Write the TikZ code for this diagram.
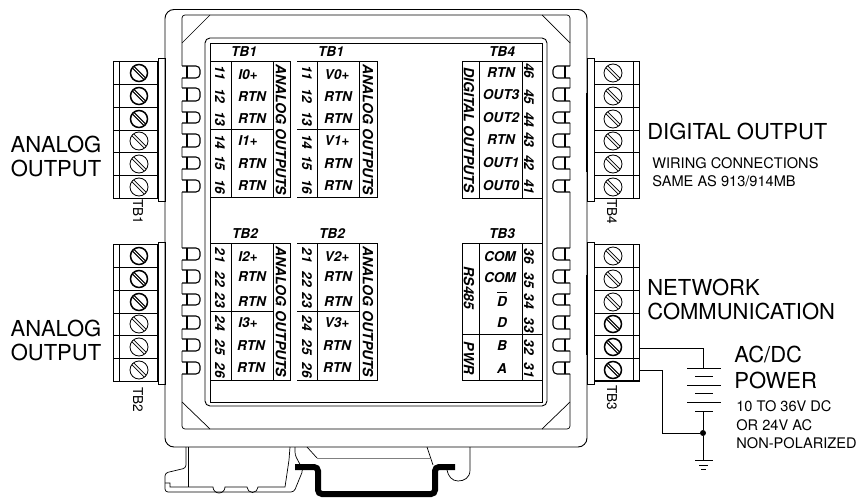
\documentclass[tikz,border=0pt]{standalone}
\usepackage{fontspec}
\setmainfont{TeX Gyre Heros}

\tikzset{
  bigtext/.style={inner sep=0pt,align=left,font=\fontsize{22}{24}\selectfont},
  smalltext/.style={inner sep=0pt,align=left,anchor=west,font=\fontsize{14.6}{18.6}\selectfont},
  sidetext/.style={inner sep=0pt,rotate=-90,font=\fontsize{13.6}{15}\selectfont},
  celltext/.style={inner sep=0pt,font=\fontsize{13.6}{15}\selectfont\bfseries\itshape},
  numtext/.style={inner sep=0pt,rotate=-90,font=\fontsize{13.6}{15}\selectfont\bfseries\itshape},
  headtext/.style={inner sep=0pt,rotate=-90,font=\fontsize{14}{16}\selectfont\bfseries\itshape},
  screwthin/.style={circle,draw,line width=0.8pt,inner sep=0pt,minimum size=18pt,
    path picture={\draw[line width=0.8pt,double,double distance=1.6pt]
      (path picture bounding box.north west) -- (path picture bounding box.south east);}},
  screwthick/.style={circle,draw,line width=1.5pt,inner sep=0pt,minimum size=17pt,
    path picture={\draw[line width=1.1pt,double,double distance=1pt]
      (path picture bounding box.north west) -- (path picture bounding box.south east);}},
  fingerl/.style={line width=1.1pt,rounded corners=4pt},
  cellline/.style={line width=0.8pt},
  railline/.style={line width=6pt,rounded corners=4pt}
}

\begin{document}
\begin{tikzpicture}[x=1pt,y=-1pt,line width=0.7pt]

  \useasboundingbox (0,0) rectangle (857,500);

  \draw[line width=0.9pt,rounded corners=9pt] (165,9.5) rectangle (587,447);
  \draw[rounded corners=3pt] (182,15) rectangle (570,429);
  \draw[line width=0.9pt,rounded corners=5pt] (205,38) rectangle (547,406);
  \draw[line width=0.9pt] (210,43) rectangle (542,402);
  \draw (182,43) -- (210,15);
  \draw (542,15) -- (570,43);
  \draw (182,402) -- (210,429);
  \draw (570,402) -- (542,429);
  \draw[line width=1.6pt] (587,93) -- (587,172);
  \draw[line width=1.6pt] (587,275) -- (587,355);

  \foreach \y in {0,182} {
    \foreach \t/\b in {66/78,88/101,112/123,134/147,157/169,180/192} {
      \fill[white] (180,\t+\y) rectangle (185,\b+\y);
      \draw[fingerl] (182,\t+\y) -- (200,\t+\y) -- (200,\b+\y) -- (182,\b+\y);
      \draw[line width=1.1pt] (187,\t+\y) -- (187,\b+\y);
      \fill[white] (567,\t+\y) rectangle (572,\b+\y);
      \draw[fingerl] (570,\t+\y) -- (553,\t+\y) -- (553,\b+\y) -- (570,\b+\y);
      \draw[line width=1.1pt] (565,\t+\y) -- (565,\b+\y);
    }
  }

  \draw[line width=0.9pt] (113,61) rectangle (157,198);
  \draw (119,61) -- (119,198);
  \draw (158,58) rectangle (165,201);
  \draw[line width=0.9pt] (113,244) rectangle (157,381);
  \draw (119,244) -- (119,381);
  \draw (158,242) rectangle (165,384);
  \draw[line width=0.9pt] (594,61) rectangle (639,198);
  \draw[line width=0.9pt] (633,61) -- (633,198);
  \draw (587,58) rectangle (594,201);
  \draw[line width=0.9pt] (594,244) rectangle (639,381);
  \draw (633,244) -- (633,381);
  \draw (587,242) rectangle (594,384);
  \draw[line width=1.4pt] (594,381) -- (639,381);

  \foreach \y in {84,107,130,152,175} {
    \draw (113,\y) -- (157,\y);
    \draw (113,\y+183) -- (157,\y+183);
    \draw (594,\y) -- (639,\y);
    \draw (594,\y+183) -- (639,\y+183);
  }

  \foreach \n/\y in {1/73,2/96,3/119} {
    \node[screwthick] (scra\n) at (139,\y) {};
    \node[screwthick] (scrb\n) at (139,\y+183) {};
    \node[screwthin] (scrd\n) at (613,\y) {};
    \node[screwthin] (scrc\n) at (613,\y+183) {};
  }
  \foreach \n/\y in {4/141,5/164,6/187} {
    \node[screwthin] (scra\n) at (139,\y) {};
    \node[screwthin] (scrb\n) at (139,\y+183) {};
    \node[screwthin] (scrd\n) at (613,\y) {};
    \node[screwthick] (scrc\n) at (613,\y+183) {};
  }

  \draw[cellline] (210,61) rectangle (290,197);
  \draw[cellline] (231,61) -- (231,197);
  \draw[cellline] (273,61) -- (273,197);
  \draw[cellline] (210,129) -- (273,129);
  \draw[cellline] (297,61) -- (377,61) -- (377,197) -- (297,197);
  \draw[cellline] (317,61) -- (317,197);
  \draw[cellline] (359,61) -- (359,197);
  \draw[cellline] (297,129) -- (359,129);
  \draw[cellline] (210,243) rectangle (290,380);
  \draw[cellline] (231,243) -- (231,380);
  \draw[cellline] (273,243) -- (273,380);
  \draw[cellline] (210,311) -- (273,311);
  \draw[cellline] (297,243) -- (377,243) -- (377,380) -- (297,380);
  \draw[cellline] (317,243) -- (317,380);
  \draw[cellline] (359,243) -- (359,380);
  \draw[cellline] (297,311) -- (359,311);
  \draw[cellline] (462,61) rectangle (542,198);
  \draw[cellline] (479,61) -- (479,198);
  \draw[cellline] (522,61) -- (522,198);
  \draw[cellline] (462,243) rectangle (542,380);
  \draw[cellline] (479,243) -- (479,380);
  \draw[cellline] (522,243) -- (522,380);
  \draw[cellline] (462,334) -- (542,334);

  \node[celltext] (heada) at (244,52) {TB1};
  \node[celltext] (headb) at (331,52) {TB1};
  \node[celltext] (headc) at (245,234) {TB2};
  \node[celltext] (headd) at (332,234) {TB2};
  \node[celltext] (heade) at (502,52) {TB4};
  \node[celltext] (headf) at (502,234) {TB3};

  \foreach \n/\y in {11/73,12/96,13/119,14/142,15/163,16/187} {
    \node[numtext] (numa\n) at (220,\y) {\n};
    \node[numtext] (numb\n) at (307,\y) {\n};
  }
  \foreach \n/\y in {21/255,22/279,23/300,24/323,25/347,26/370} {
    \node[numtext] (numa\n) at (220,\y) {\n};
    \node[numtext] (numb\n) at (307,\y) {\n};
  }
  \foreach \n/\y in {46/71,45/97,44/120,43/140,42/163,41/187,36/256,35/280,34/301,33/325,32/347,31/370} {
    \node[numtext] (numc\n) at (529,\y) {\n};
  }

  \foreach \n/\t/\x/\y in {a/I0+/248/75,b/RTN/252/97,c/RTN/252/119,d/I1+/248/141,e/RTN/252/164,f/RTN/252/186,
    g/V0+/337/75,h/RTN/338/97,i/RTN/338/119,j/V1+/337/141,k/RTN/338/164,l/RTN/338/186,
    m/I2+/248/257,n/RTN/252/277,o/RTN/252/302,p/I3+/248/323,q/RTN/251/346,r/RTN/251/368,
    s/V2+/337/257,t/RTN/338/277,u/RTN/338/302,v/V3+/337/323,w/RTN/337/346,x/RTN/337/368} {
    \node[celltext] (lab\n) at (\x,\y) {\t};
  }
  \foreach \n/\t/\y in {a/RTN/73,b/OUT3/95,c/OUT2/118,d/RTN/140,e/OUT1/163,f/OUT0/186} {
    \node[celltext] (outp\n) at (501,\y) {\t};
  }
  \node[celltext] (comb) at (500,257) {COM};
  \node[celltext] (coma) at (500,278) {COM};
  \node[celltext] (dbar) at (502,302) {D};
  \draw (497,292.5) -- (507,292.5);
  \node[celltext] (dpos) at (502,323) {D};
  \node[celltext] (pwrb) at (502,346) {B};
  \node[celltext] (pwra) at (502,369) {A};

  \node[headtext] (anaa) at (281,130) {ANALOG OUTPUTS};
  \node[headtext] (anab) at (368,130) {ANALOG OUTPUTS};
  \node[headtext] (anac) at (281,312) {ANALOG OUTPUTS};
  \node[headtext] (anad) at (368,312) {ANALOG OUTPUTS};
  \node[headtext] (digout) at (469,130) {DIGITAL OUTPUTS};
  \node[headtext] (rsport) at (469,288) {RS485};
  \node[headtext] (pwrport) at (469,358) {PWR};

  \node[sidetext] (tbone) at (138,212) {TB1};
  \node[sidetext] (tbtwo) at (138,400) {TB2};
  \node[sidetext] (tbfour) at (612,212) {TB4};
  \node[sidetext] (tbthree) at (612,398) {TB3};

  \node[bigtext,align=center] (anaoa) at (56,156) {ANALOG\\OUTPUT};
  \node[bigtext,align=center] (anaob) at (56,340) {ANALOG\\OUTPUT};
  \node[bigtext,anchor=west] (digo) at (647,131) {DIGITAL OUTPUT};
  \node[smalltext] (wiring) at (652,172) {WIRING CONNECTIONS\\SAME AS 913/914MB};
  \node[bigtext,anchor=west] (netw) at (647,299) {NETWORK\\COMMUNICATION};
  \node[bigtext,anchor=west] (acdc) at (734,367) {AC/DC\\[2pt]POWER};
  \node[smalltext] (range) at (736,425) {10 TO 36V DC\\OR 24V AC\\NON-POLARIZED};

  \coordinate (tplus) at (639,348);
  \coordinate (tminus) at (639,370);
  \coordinate (batt) at (703,368);
  \coordinate (cella) at (703,411);
  \coordinate (gnd) at (703,460);
  \coordinate (bend) at (662,433);
  \node[circle,fill=black,inner sep=0pt,minimum size=6pt] (junc) at (703,433) {};

  \draw (tplus) -| (batt);
  \draw (tminus) -| (bend) -- (junc);
  \draw (cella) -- (junc) -- (gnd);

  \draw (687,368) -- (721,368);
  \draw (695,376) -- (713,376);
  \draw (687,385) -- (721,385);
  \draw (695,393) -- (713,393);
  \draw (687,402) -- (721,402);
  \draw (695,411) -- (713,411);
  \draw (695,460) -- (713,460);
  \draw (699,465) -- (708,465);
  \draw (701,469) -- (706,469);

  \draw[rounded corners=3pt] (186,447) -- (186,468) -- (165,473) -- (165,492) -- (294,492)
    -- (303,470) -- (295,455) -- (295,447);
  \draw (188,447) -- (188,487);
  \draw (165,483) -- (170,483) -- (170,487) -- (213,487) arc (180:0:6) -- (247,487) arc (180:0:5.5)
    -- (285,487) -- (289,460) -- (290,447);
  \draw (307,447) -- (317,458);
  \draw[gray,line width=1pt] (317,458) -- (430,458);
  \draw (427,447) -- (433,465);
  \draw (470,447) -- (470,470) .. controls (470,478) and (464,481) .. (458,481)
    .. controls (452,481) and (448,476) .. (447,470);
  \draw[railline] (295,467) -- (318,467) -- (318,494) -- (435,494) -- (435,467) -- (455,467);

\end{tikzpicture}
\end{document}
